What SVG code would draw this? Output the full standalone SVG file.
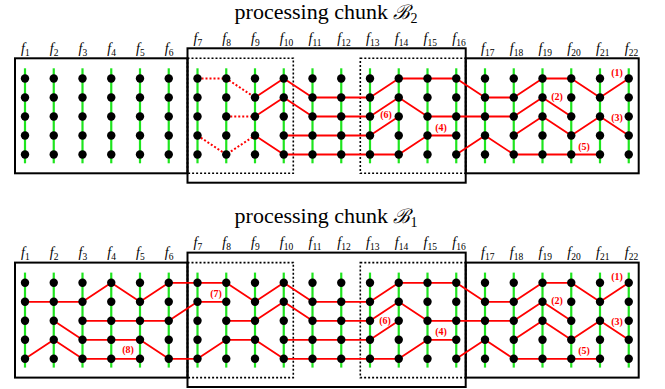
<svg xmlns="http://www.w3.org/2000/svg" width="665" height="389" viewBox="0 0 665 389">
<style>
.box{fill:none;stroke:#000;stroke-width:2}
.dbox{fill:none;stroke:#000;stroke-width:1.6;stroke-dasharray:2 2}
.trk{fill:none;stroke:#f00;stroke-width:1.8;stroke-linejoin:round}
.dtrk{fill:none;stroke:#f00;stroke-width:2;stroke-dasharray:2 2}
.gl{stroke:#1ee51e;stroke-width:2.2}
.dot{fill:#000}
.title{font-family:"Liberation Serif","DejaVu Serif",serif;font-size:22px;fill:#000}
.fl{font-family:"Liberation Serif",serif;font-size:14px;fill:#000}
.fl .f{font-style:italic}
.fl .s{font-size:9.5px}
.num{font-family:"Liberation Serif",serif;font-size:10px;font-weight:bold;fill:#f00;text-anchor:middle}
</style>
<defs>
<g id="col">
<line class="gl" x1="0" y1="68.3" x2="0" y2="163.3"/>
<circle class="dot" cx="0" cy="78.5" r="4.2"/>
<circle class="dot" cx="0" cy="97.5" r="4.2"/>
<circle class="dot" cx="0" cy="116.5" r="4.2"/>
<circle class="dot" cx="0" cy="135.5" r="4.2"/>
<circle class="dot" cx="0" cy="154.5" r="4.2"/>
</g>
</defs>

<!-- ===== Panel B2 (top) ===== -->
<g id="panel-B2">
<text class="title" x="326" y="18.5" text-anchor="middle">processing chunk <tspan font-family="DejaVu Serif,serif" font-style="italic" font-size="20">ℬ</tspan><tspan font-size="14" dy="4">2</tspan></text>
<g id="B2-frames">
<rect class="box" x="15" y="58.3" width="172.5" height="115"/>
<rect class="box" x="465.7" y="58.3" width="173" height="115"/>
<rect class="box" x="187.5" y="48.3" width="278.2" height="134.4"/>
<rect class="dbox" x="187.5" y="58.3" width="105.8" height="115"/>
<rect class="dbox" x="360.3" y="58.3" width="105.4" height="115"/>
</g>
<g id="B2-connectors">
<polyline class="dtrk" points="197.5,78.5 226.25,78.5 255,97.5"/>
<polyline class="dtrk" points="226.25,116.5 255,116.5"/>
<polyline class="dtrk" points="197.5,135.5 226.25,154.5 255,135.5"/>
<polyline class="trk" points="255,97.5 283.75,78.5 312.5,97.5 341.25,97.5 370,97.5 398.75,78.5 427.5,78.5 456.25,78.5 485,97.5 513.75,97.5 542.5,78.5 571.25,78.5 600,97.5 628.75,78.5"/>
<polyline class="trk" points="255,116.5 283.75,97.5 312.5,116.5 341.25,116.5 370,116.5 398.75,97.5 427.5,116.5 456.25,116.5 485,116.5 513.75,116.5 542.5,97.5 571.25,116.5"/>
<polyline class="trk" points="283.75,135.5 312.5,135.5 341.25,135.5 370,135.5 398.75,116.5"/>
<polyline class="trk" points="255,135.5 283.75,154.5 312.5,154.5 341.25,154.5 370,154.5 398.75,154.5 427.5,135.5 456.25,135.5"/>
<polyline class="trk" points="456.25,154.5 485,135.5 513.75,154.5 542.5,154.5 571.25,154.5 600,154.5"/>
<polyline class="trk" points="513.75,135.5 542.5,116.5 571.25,135.5 600,116.5 628.75,135.5"/>
<text class="num" x="617" y="75.5">(1)</text>
<text class="num" x="557" y="99.5">(2)</text>
<text class="num" x="617" y="120.5">(3)</text>
<text class="num" x="441" y="130.5">(4)</text>
<text class="num" x="584" y="149.5">(5)</text>
<text class="num" x="386" y="117.5">(6)</text>
</g>
<g id="B2-f1"><use href="#col" x="25"/><text class="fl" x="21" y="53"><tspan class="f">f</tspan><tspan class="s" dy="3">1</tspan></text></g>
<g id="B2-f2"><use href="#col" x="53.75"/><text class="fl" x="49.75" y="53"><tspan class="f">f</tspan><tspan class="s" dy="3">2</tspan></text></g>
<g id="B2-f3"><use href="#col" x="82.5"/><text class="fl" x="78.5" y="53"><tspan class="f">f</tspan><tspan class="s" dy="3">3</tspan></text></g>
<g id="B2-f4"><use href="#col" x="111.25"/><text class="fl" x="107.25" y="53"><tspan class="f">f</tspan><tspan class="s" dy="3">4</tspan></text></g>
<g id="B2-f5"><use href="#col" x="140"/><text class="fl" x="136" y="53"><tspan class="f">f</tspan><tspan class="s" dy="3">5</tspan></text></g>
<g id="B2-f6"><use href="#col" x="168.75"/><text class="fl" x="164.75" y="53"><tspan class="f">f</tspan><tspan class="s" dy="3">6</tspan></text></g>
<g id="B2-f7"><use href="#col" x="197.5"/><text class="fl" x="193.5" y="43"><tspan class="f">f</tspan><tspan class="s" dy="3">7</tspan></text></g>
<g id="B2-f8"><use href="#col" x="226.25"/><text class="fl" x="222.25" y="43"><tspan class="f">f</tspan><tspan class="s" dy="3">8</tspan></text></g>
<g id="B2-f9"><use href="#col" x="255"/><text class="fl" x="251" y="43"><tspan class="f">f</tspan><tspan class="s" dy="3">9</tspan></text></g>
<g id="B2-f10"><use href="#col" x="283.75"/><text class="fl" x="279.75" y="43"><tspan class="f">f</tspan><tspan class="s" dy="3">10</tspan></text></g>
<g id="B2-f11"><use href="#col" x="312.5"/><text class="fl" x="308.5" y="43"><tspan class="f">f</tspan><tspan class="s" dy="3">11</tspan></text></g>
<g id="B2-f12"><use href="#col" x="341.25"/><text class="fl" x="337.25" y="43"><tspan class="f">f</tspan><tspan class="s" dy="3">12</tspan></text></g>
<g id="B2-f13"><use href="#col" x="370"/><text class="fl" x="366" y="43"><tspan class="f">f</tspan><tspan class="s" dy="3">13</tspan></text></g>
<g id="B2-f14"><use href="#col" x="398.75"/><text class="fl" x="394.75" y="43"><tspan class="f">f</tspan><tspan class="s" dy="3">14</tspan></text></g>
<g id="B2-f15"><use href="#col" x="427.5"/><text class="fl" x="423.5" y="43"><tspan class="f">f</tspan><tspan class="s" dy="3">15</tspan></text></g>
<g id="B2-f16"><use href="#col" x="456.25"/><text class="fl" x="452.25" y="43"><tspan class="f">f</tspan><tspan class="s" dy="3">16</tspan></text></g>
<g id="B2-f17"><use href="#col" x="485"/><text class="fl" x="481" y="53"><tspan class="f">f</tspan><tspan class="s" dy="3">17</tspan></text></g>
<g id="B2-f18"><use href="#col" x="513.75"/><text class="fl" x="509.75" y="53"><tspan class="f">f</tspan><tspan class="s" dy="3">18</tspan></text></g>
<g id="B2-f19"><use href="#col" x="542.5"/><text class="fl" x="538.5" y="53"><tspan class="f">f</tspan><tspan class="s" dy="3">19</tspan></text></g>
<g id="B2-f20"><use href="#col" x="571.25"/><text class="fl" x="567.25" y="53"><tspan class="f">f</tspan><tspan class="s" dy="3">20</tspan></text></g>
<g id="B2-f21"><use href="#col" x="600"/><text class="fl" x="596" y="53"><tspan class="f">f</tspan><tspan class="s" dy="3">21</tspan></text></g>
<g id="B2-f22"><use href="#col" x="628.75"/><text class="fl" x="624.75" y="53"><tspan class="f">f</tspan><tspan class="s" dy="3">22</tspan></text></g>
</g>

<!-- ===== Panel B1 (bottom) ===== -->
<g id="panel-B1" transform="translate(0,204.3)">
<text class="title" x="326" y="18.5" text-anchor="middle">processing chunk <tspan font-family="DejaVu Serif,serif" font-style="italic" font-size="20">ℬ</tspan><tspan font-size="14" dy="4">1</tspan></text>
<g id="B1-frames">
<rect class="box" x="15" y="58.3" width="172.5" height="115"/>
<rect class="box" x="465.7" y="58.3" width="173" height="115"/>
<rect class="box" x="187.5" y="48.3" width="278.2" height="134.4"/>
<rect class="dbox" x="187.5" y="58.3" width="105.8" height="115"/>
<rect class="dbox" x="360.3" y="58.3" width="105.4" height="115"/>
</g>
<g id="B1-connectors">
<polyline class="trk" points="25,97.5 53.75,97.5 82.5,97.5 111.25,78.5 140,97.5 168.75,78.5 197.5,78.5 226.25,78.5 255,97.5 283.75,78.5 312.5,97.5 341.25,97.5 370,97.5 398.75,78.5 427.5,78.5 456.25,78.5 485,97.5 513.75,97.5 542.5,78.5 571.25,78.5 600,97.5 628.75,78.5"/>
<polyline class="trk" points="82.5,116.5 111.25,116.5 140,116.5 168.75,116.5 197.5,97.5 226.25,97.5"/>
<polyline class="trk" points="25,154.5 53.75,135.5 82.5,154.5 111.25,154.5 140,154.5"/>
<polyline class="trk" points="53.75,116.5 82.5,135.5 111.25,135.5 140,135.5 168.75,154.5 197.5,154.5 226.25,135.5 255,135.5 283.75,154.5 312.5,154.5 341.25,154.5 370,154.5 398.75,154.5 427.5,135.5 456.25,135.5"/>
<polyline class="trk" points="226.25,116.5 255,116.5 283.75,97.5 312.5,116.5 341.25,116.5 370,116.5 398.75,97.5 427.5,116.5 456.25,116.5 485,116.5 513.75,116.5 542.5,97.5 571.25,116.5"/>
<polyline class="trk" points="283.75,135.5 312.5,135.5 341.25,135.5 370,135.5 398.75,116.5"/>
<polyline class="trk" points="456.25,154.5 485,135.5 513.75,154.5 542.5,154.5 571.25,154.5 600,154.5"/>
<polyline class="trk" points="513.75,135.5 542.5,116.5 571.25,135.5 600,116.5 628.75,135.5"/>
<text class="num" x="617" y="75.5">(1)</text>
<text class="num" x="557" y="99.5">(2)</text>
<text class="num" x="617" y="120.5">(3)</text>
<text class="num" x="441" y="130.5">(4)</text>
<text class="num" x="584" y="149.5">(5)</text>
<text class="num" x="385" y="119.5">(6)</text>
<text class="num" x="216" y="92.5">(7)</text>
<text class="num" x="128" y="149">(8)</text>
</g>
<g id="B1-f1"><use href="#col" x="25"/><text class="fl" x="21" y="53"><tspan class="f">f</tspan><tspan class="s" dy="3">1</tspan></text></g>
<g id="B1-f2"><use href="#col" x="53.75"/><text class="fl" x="49.75" y="53"><tspan class="f">f</tspan><tspan class="s" dy="3">2</tspan></text></g>
<g id="B1-f3"><use href="#col" x="82.5"/><text class="fl" x="78.5" y="53"><tspan class="f">f</tspan><tspan class="s" dy="3">3</tspan></text></g>
<g id="B1-f4"><use href="#col" x="111.25"/><text class="fl" x="107.25" y="53"><tspan class="f">f</tspan><tspan class="s" dy="3">4</tspan></text></g>
<g id="B1-f5"><use href="#col" x="140"/><text class="fl" x="136" y="53"><tspan class="f">f</tspan><tspan class="s" dy="3">5</tspan></text></g>
<g id="B1-f6"><use href="#col" x="168.75"/><text class="fl" x="164.75" y="53"><tspan class="f">f</tspan><tspan class="s" dy="3">6</tspan></text></g>
<g id="B1-f7"><use href="#col" x="197.5"/><text class="fl" x="193.5" y="43"><tspan class="f">f</tspan><tspan class="s" dy="3">7</tspan></text></g>
<g id="B1-f8"><use href="#col" x="226.25"/><text class="fl" x="222.25" y="43"><tspan class="f">f</tspan><tspan class="s" dy="3">8</tspan></text></g>
<g id="B1-f9"><use href="#col" x="255"/><text class="fl" x="251" y="43"><tspan class="f">f</tspan><tspan class="s" dy="3">9</tspan></text></g>
<g id="B1-f10"><use href="#col" x="283.75"/><text class="fl" x="279.75" y="43"><tspan class="f">f</tspan><tspan class="s" dy="3">10</tspan></text></g>
<g id="B1-f11"><use href="#col" x="312.5"/><text class="fl" x="308.5" y="43"><tspan class="f">f</tspan><tspan class="s" dy="3">11</tspan></text></g>
<g id="B1-f12"><use href="#col" x="341.25"/><text class="fl" x="337.25" y="43"><tspan class="f">f</tspan><tspan class="s" dy="3">12</tspan></text></g>
<g id="B1-f13"><use href="#col" x="370"/><text class="fl" x="366" y="43"><tspan class="f">f</tspan><tspan class="s" dy="3">13</tspan></text></g>
<g id="B1-f14"><use href="#col" x="398.75"/><text class="fl" x="394.75" y="43"><tspan class="f">f</tspan><tspan class="s" dy="3">14</tspan></text></g>
<g id="B1-f15"><use href="#col" x="427.5"/><text class="fl" x="423.5" y="43"><tspan class="f">f</tspan><tspan class="s" dy="3">15</tspan></text></g>
<g id="B1-f16"><use href="#col" x="456.25"/><text class="fl" x="452.25" y="43"><tspan class="f">f</tspan><tspan class="s" dy="3">16</tspan></text></g>
<g id="B1-f17"><use href="#col" x="485"/><text class="fl" x="481" y="53"><tspan class="f">f</tspan><tspan class="s" dy="3">17</tspan></text></g>
<g id="B1-f18"><use href="#col" x="513.75"/><text class="fl" x="509.75" y="53"><tspan class="f">f</tspan><tspan class="s" dy="3">18</tspan></text></g>
<g id="B1-f19"><use href="#col" x="542.5"/><text class="fl" x="538.5" y="53"><tspan class="f">f</tspan><tspan class="s" dy="3">19</tspan></text></g>
<g id="B1-f20"><use href="#col" x="571.25"/><text class="fl" x="567.25" y="53"><tspan class="f">f</tspan><tspan class="s" dy="3">20</tspan></text></g>
<g id="B1-f21"><use href="#col" x="600"/><text class="fl" x="596" y="53"><tspan class="f">f</tspan><tspan class="s" dy="3">21</tspan></text></g>
<g id="B1-f22"><use href="#col" x="628.75"/><text class="fl" x="624.75" y="53"><tspan class="f">f</tspan><tspan class="s" dy="3">22</tspan></text></g>
</g>
</svg>
